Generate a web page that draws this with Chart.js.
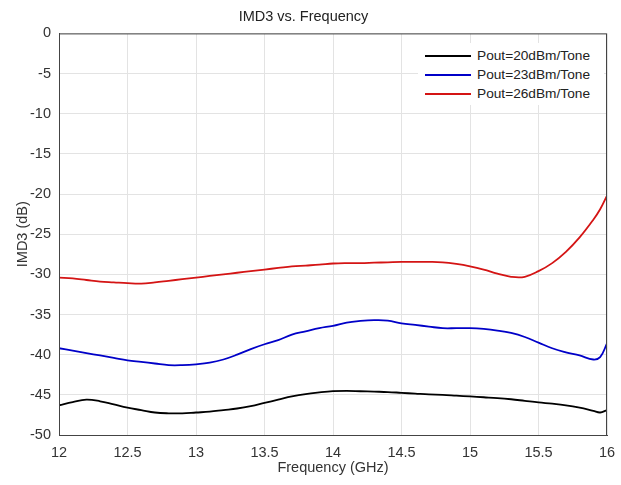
<!DOCTYPE html>
<html>
<head>
<meta charset="utf-8">
<script src="https://cdn.jsdelivr.net/npm/chart.js@4.4.1/dist/chart.umd.min.js"></script>
<style>
  body { margin: 0; background: #fff; }
  #wrap { position: relative; width: 621px; height: 485px; }
  #legenda {
    position: absolute; left: 418px; top: 43px; width: 186px; height: 62px;
    background: #fff; font-family: "Liberation Sans", Arial, sans-serif; font-size: 13.7px; color: #222;
  }
  .item { position: absolute; left: 0; height: 19px; line-height: 19px; white-space: nowrap; }
  .item span.linha { position: absolute; left: 7px; top: 9px; width: 46px; height: 2px; }
  .item span.txt { position: absolute; left: 59px; top: 0; }
</style>
</head>
<body>
<div id="wrap">
  <canvas id="grafico" width="621" height="485"></canvas>
  <div id="legenda"></div>
</div>
<script>
// frequências (GHz)
const freq = [12, 12.1, 12.2, 12.3, 12.4, 12.5, 12.6, 12.7, 12.8, 12.9,
  13, 13.1, 13.2, 13.3, 13.4, 13.5, 13.6, 13.7, 13.8, 13.9,
  14, 14.1, 14.2, 14.3, 14.4, 14.5, 14.6, 14.7, 14.8, 14.9,
  15, 15.1, 15.2, 15.3, 15.4, 15.5, 15.6, 15.7, 15.8, 15.9, 15.95, 16];

const pout20 = [-46.3, -45.9, -45.6, -45.8, -46.2, -46.6, -46.9, -47.2, -47.3, -47.3,
  -47.2, -47.1, -46.9, -46.7, -46.4, -46.0, -45.6, -45.2, -44.9, -44.7,
  -44.55, -44.5, -44.55, -44.6, -44.65, -44.75, -44.85, -44.95, -45.0, -45.1,
  -45.2, -45.3, -45.4, -45.55, -45.75, -45.95, -46.1, -46.3, -46.6, -47.0, -47.2, -46.9];

const pout23 = [-39.2, -39.5, -39.8, -40.1, -40.4, -40.7, -40.9, -41.1, -41.3, -41.3,
  -41.2, -41.0, -40.6, -40.0, -39.3, -38.7, -38.2, -37.5, -37.1, -36.7,
  -36.4, -36.0, -35.8, -35.7, -35.75, -36.1, -36.3, -36.5, -36.7, -36.7,
  -36.7, -36.8, -37.0, -37.3, -37.8, -38.5, -39.2, -39.7, -40.1, -40.6, -40.3, -38.6];

const pout26 = [-30.4, -30.5, -30.7, -30.9, -31.0, -31.1, -31.15, -31.0, -30.8, -30.6,
  -30.4, -30.2, -30.0, -29.8, -29.6, -29.4, -29.2, -29.0, -28.9, -28.8,
  -28.65, -28.6, -28.6, -28.55, -28.5, -28.45, -28.45, -28.45, -28.5, -28.7,
  -29.0, -29.4, -29.9, -30.3, -30.3, -29.6, -28.6, -27.2, -25.4, -23.2, -21.9, -20.2];

const nomes = ["Pout=20dBm/Tone", "Pout=23dBm/Tone", "Pout=26dBm/Tone"];
const cores = ["#000000", "#0000c8", "#d41414"];
const series = [pout20, pout23, pout26];

const fonte = { family: "'Liberation Sans', Arial, sans-serif", size: 14.5 };
const corTexto = "#333";

function pontos(valores) {
  return freq.map((f, i) => ({ x: f, y: valores[i] }));
}

// borda completa (estilo MATLAB)
const caixa = {
  id: "caixa",
  afterDraw(chart) {
    const a = chart.chartArea;
    const ctx = chart.ctx;
    ctx.save();
    ctx.strokeStyle = "#444";
    ctx.lineWidth = 1;
    ctx.strokeRect(a.left + 0.5, a.top + 0.5, a.right - a.left - 1, a.bottom - a.top);
    ctx.restore();
  }
};

const config = {
  type: "line",
  data: {
    datasets: series.map((s, i) => ({
      label: nomes[i],
      data: pontos(s),
      borderColor: cores[i],
      borderWidth: 1.8,
      pointRadius: 0,
      tension: 0.4,
      fill: false
    }))
  },
  options: {
    responsive: false,
    animation: false,
    layout: { padding: { left: 0, right: 14, top: 0, bottom: 0 } },
    plugins: {
      legend: { display: false },
      tooltip: { enabled: false },
      title: {
        display: true,
        text: "IMD3 vs. Frequency",
        color: "#222",
        font: { ...fonte, weight: "normal" },
        padding: { top: 8, bottom: 8 }
      }
    },
    scales: {
      x: {
        type: "linear",
        min: 12, max: 16,
        ticks: {
          stepSize: 0.5, color: corTexto, font: fonte, padding: 9, maxRotation: 0,
          callback: v => String(v)
        },
        grid: { color: "#e3e3e3", tickLength: 0 },
        border: { color: "#444" },
        title: { display: true, text: "Frequency (GHz)", color: corTexto, font: fonte, padding: { top: 2, bottom: 8 } },
        afterFit(scale) {
          scale.height = 50;
          scale.paddingLeft = 0;
          scale.paddingRight = 0;
        }
      },
      y: {
        min: -50, max: 0,
        ticks: { stepSize: 5, color: corTexto, font: fonte, padding: 8 },
        grid: { color: "#e3e3e3", tickLength: 0 },
        border: { color: "#444" },
        title: { display: true, text: "IMD3 (dB)", color: corTexto, font: fonte, padding: { top: 14, bottom: 0 } },
        afterFit(scale) { scale.width = 59; }
      }
    }
  },
  plugins: [caixa]
};

const ctx = document.getElementById("grafico").getContext("2d");
new Chart(ctx, config);

// legenda dentro do gráfico
const legenda = document.getElementById("legenda");
nomes.forEach((nome, i) => {
  const item = document.createElement("div");
  item.className = "item";
  item.style.top = (3 + i * 19) + "px";
  item.innerHTML = `<span class="linha" style="background:${cores[i]}"></span><span class="txt">${nome}</span>`;
  legenda.appendChild(item);
});
</script>
</body>
</html>
